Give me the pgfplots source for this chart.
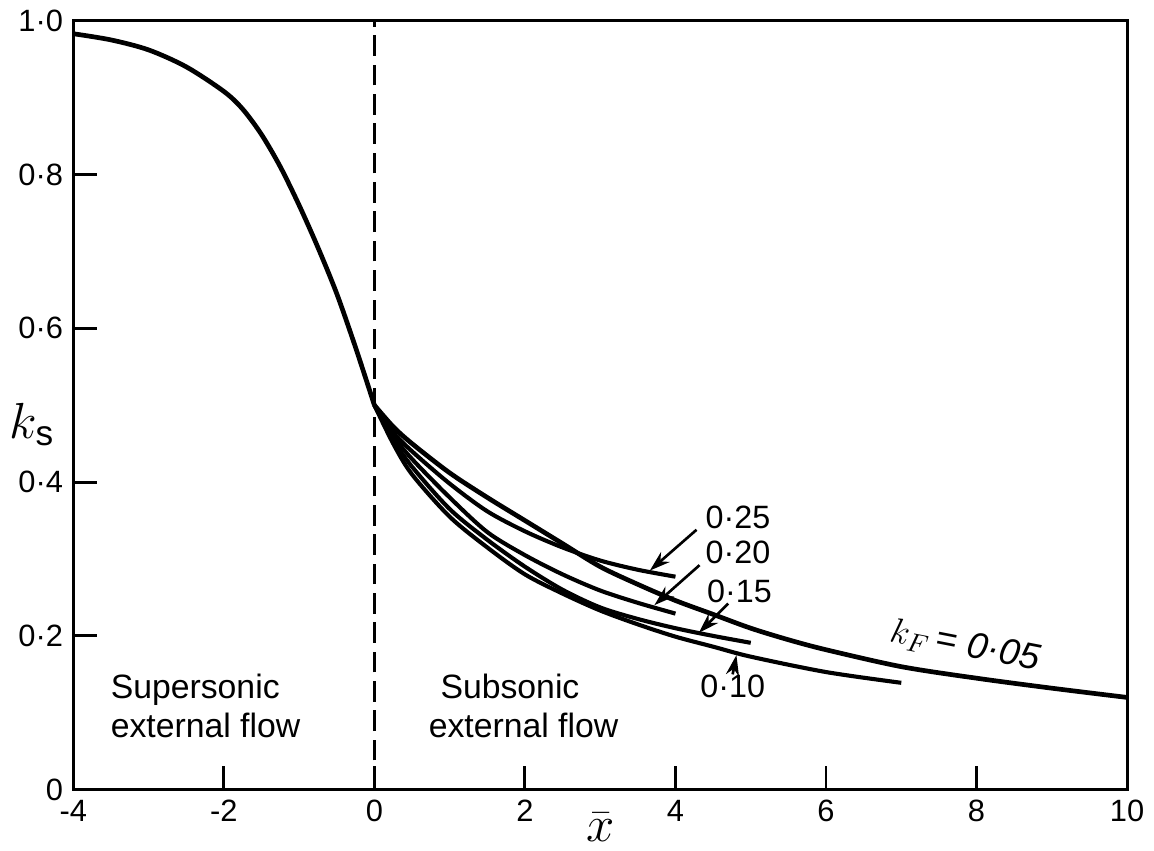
\documentclass[border=0pt]{standalone}
\usepackage{fontspec}
\setmainfont{Liberation Sans}
\usepackage{pgfplots}
\pgfplotsset{compat=1.18}
\usetikzlibrary{arrows.meta}

\begin{document}
\begin{tikzpicture}
\begin{axis}[
  scale only axis, width=359pt, height=262pt,
  xmin=-4, xmax=10, ymin=0, ymax=1,
  axis line style={line width=1pt},
  tick style={line width=1pt, black},
  tick align=inside, major tick length=8pt,
  xtick={-4,-2,0,2,4,6,8,10}, xticklabels={-4,-2,0,2,4,6,8,10},
  ytick={0,0.2,0.4,0.6,0.8,1}, yticklabels={0,0·2,0·4,0·6,0·8,1·0},
  xtick pos=bottom, ytick pos=left,
  ticklabel style={font=\fontsize{10.5}{12}\selectfont},
  xlabel={\LARGE$\bar{x}$},
  xlabel style={yshift=10pt},
  clip=false,
]
% supersonic part
\addplot[line width=1.6pt, smooth] coordinates {
  (-4,0.983) (-3.5,0.975) (-3,0.962) (-2.5,0.94) (-2,0.908) (-1.75,0.885)
  (-1.5,0.852) (-1.25,0.81) (-1,0.76) (-0.75,0.705) (-0.5,0.645) (-0.25,0.575) (0,0.5)};
% kF = 0.05
\addplot[line width=1.6pt, smooth] coordinates {
  (0,0.5) (0.25,0.472) (0.5,0.45) (1,0.412) (1.5,0.38) (2,0.35) (2.5,0.32)
  (3,0.29) (3.5,0.267) (4,0.246) (4.5,0.228) (5,0.21) (5.5,0.195) (6,0.182)
  (7,0.16) (8,0.145) (9,0.132) (10,0.12)};
% kF = 0.25
\addplot[line width=1.4pt, smooth] coordinates {
  (0,0.5) (0.25,0.465) (0.5,0.44) (1,0.398) (1.5,0.362) (2,0.336) (2.5,0.315)
  (3,0.298) (3.5,0.286) (4,0.277)};
% kF = 0.20
\addplot[line width=1.4pt, smooth] coordinates {
  (0,0.5) (0.25,0.46) (0.5,0.43) (1,0.38) (1.5,0.335) (2,0.305) (2.5,0.28)
  (3,0.259) (3.5,0.243) (4,0.229)};
% kF = 0.15
\addplot[line width=1.4pt, smooth] coordinates {
  (0,0.5) (0.25,0.455) (0.5,0.42) (1,0.365) (1.5,0.325) (2,0.29) (2.5,0.26)
  (3,0.237) (3.5,0.222) (4,0.21) (4.5,0.2) (5,0.191)};
% kF = 0.10
\addplot[line width=1.4pt, smooth] coordinates {
  (0,0.5) (0.25,0.45) (0.5,0.41) (1,0.355) (1.5,0.315) (2,0.28) (2.5,0.255)
  (3,0.233) (3.5,0.215) (4,0.199) (4.5,0.186) (5,0.173) (6,0.153) (7,0.139)};

\draw[line width=0.9pt, dash pattern=on 7pt off 3pt] (axis cs:0,0) -- (axis cs:0,1);

\node[font=\LARGE] at (rel axis cs:0,0.475) [xshift=-14pt] {$k_{\mathrm{s}}$};

\begin{scope}[font=\fontsize{11}{12}\selectfont]
\node at (axis cs:4.83,0.354) {0·25};
\node at (axis cs:4.83,0.308) {0·20};
\node at (axis cs:4.85,0.258) {0·15};
\node at (axis cs:4.76,0.134) {0·10};
\end{scope}
\node[rotate=-11, font=\fontsize{12.5}{14}\selectfont] at (axis cs:7.85,0.187) {$k_F$\,= \textit{0·05}};

\begin{scope}[line width=0.9pt, -{Stealth[length=7pt,width=4.5pt]}]
\draw (axis cs:4.28,0.338) -- (axis cs:3.66,0.285);
\draw (axis cs:4.32,0.292) -- (axis cs:3.72,0.240);
\draw (axis cs:4.70,0.242) -- (axis cs:4.31,0.204);
\draw (axis cs:4.76,0.150) -- (axis cs:4.81,0.175);
\end{scope}

\node[align=left, anchor=west, font=\fontsize{11.5}{13.5}\selectfont]
  at (axis cs:-3.64,0.109) {Supersonic\\external flow};
\node[align=left, anchor=west, font=\fontsize{11.5}{13.5}\selectfont]
  at (axis cs:0.585,0.109) {\hspace{4pt}Subsonic\\external flow};
\end{axis}
\end{tikzpicture}
\end{document}
